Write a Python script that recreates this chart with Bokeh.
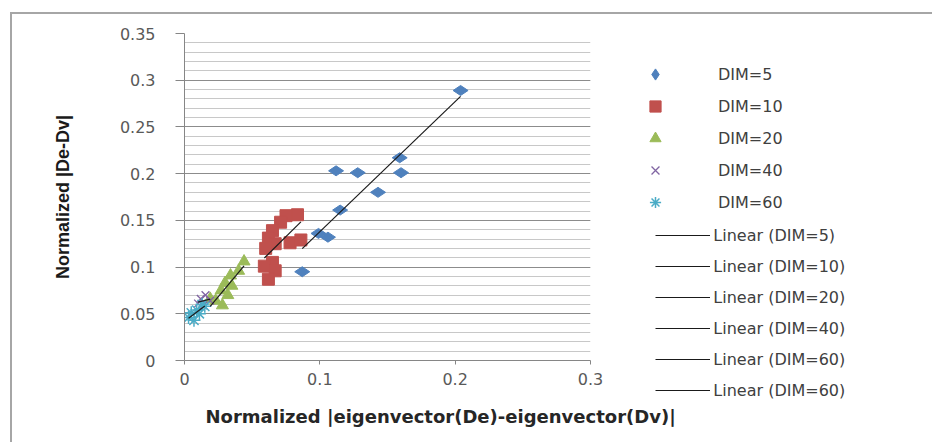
import numpy as np
from bokeh.plotting import figure
from bokeh.models import Legend, LegendItem, FixedTicker, Range1d, Title
from bokeh.embed import file_html
from bokeh.resources import INLINE

# ---------------- data ----------------
dim5_x = [0.204, 0.112, 0.128, 0.159, 0.160, 0.143, 0.115, 0.099, 0.106, 0.087]
dim5_y = [0.289, 0.203, 0.201, 0.217, 0.201, 0.180, 0.161, 0.136, 0.132, 0.095]

dim10_x = [0.0835, 0.075, 0.071, 0.065, 0.062, 0.067, 0.078, 0.086, 0.060, 0.065, 0.059, 0.067, 0.062]
dim10_y = [0.156, 0.155, 0.148, 0.139, 0.131, 0.125, 0.126, 0.129, 0.120, 0.105, 0.101, 0.096, 0.087]

dim20_x = [0.044, 0.040, 0.034, 0.030, 0.035, 0.027, 0.032, 0.023, 0.028, 0.019]
dim20_y = [0.106, 0.096, 0.091, 0.083, 0.080, 0.075, 0.070, 0.064, 0.059, 0.066]

dim40_x = [0.010, 0.012, 0.0155, 0.019, 0.014]
dim40_y = [0.061, 0.066, 0.070, 0.064, 0.059]

dim60_x = [0.003, 0.005, 0.007, 0.009, 0.011, 0.013, 0.015]
dim60_y = [0.046, 0.051, 0.043, 0.054, 0.050, 0.060, 0.058]

series_labels = ["DIM=5", "DIM=10", "DIM=20", "DIM=40", "DIM=60"]
trend_labels = ["Linear (DIM=5)", "Linear (DIM=10)", "Linear (DIM=20)",
                "Linear (DIM=40)", "Linear (DIM=60)", "Linear (DIM=60)"]

x_ticks = [0, 0.1, 0.2, 0.3]
x_tick_labels = ["0", "0.1", "0.2", "0.3"]
y_ticks = [0, 0.05, 0.1, 0.15, 0.2, 0.25, 0.3, 0.35]
y_tick_labels = ["0", "0.05", "0.1", "0.15", "0.2", "0.25", "0.3", "0.35"]
y_minor = [round(v, 2) for v in np.arange(0, 0.3501, 0.01)]

x_title = "Normalized |eigenvector(De)-eigenvector(Dv)|"
y_title = "Normalized |De-Dv|"

# ---------------- styles ----------------
series_styles = [
    dict(marker="diamond", size=15, angle=np.pi / 2, fill_color="#4f81bd", line_color="#4f81bd"),
    dict(marker="square", size=12, fill_color="#c0504d", line_color="#c0504d"),
    dict(marker="triangle", size=12, fill_color="#9bbb59", line_color="#9bbb59"),
    dict(marker="x", size=11, line_color="#8064a2", line_width=1.3),
    dict(marker="asterisk", size=13, line_color="#4bacc6", line_width=1.5),
]
trend_style = dict(line_color="#1a1a1a", line_width=1.2)

# ---------------- figure ----------------
p = figure(frame_width=406, frame_height=327, x_range=Range1d(0, 0.3), y_range=Range1d(0, 0.35),
           output_backend="svg", toolbar_location=None,
           min_border_left=172, min_border_right=0, min_border_top=19, min_border_bottom=78,
           styles={"border-left": "2px solid #a6a6a6", "border-top": "2px solid #a6a6a6",
                   "margin-left": "10px", "margin-top": "12px"})
p.outline_line_color = None
p.background_fill_color = "white"
p.border_fill_color = "white"

p.xaxis.ticker = FixedTicker(ticks=x_ticks)
p.yaxis.ticker = FixedTicker(ticks=y_ticks, minor_ticks=y_minor)
p.xaxis.major_label_overrides = dict(zip(x_ticks, x_tick_labels))
p.yaxis.major_label_overrides = dict(zip(y_ticks, y_tick_labels))
p.ygrid.ticker = FixedTicker(ticks=y_ticks, minor_ticks=y_minor)

p.xgrid.grid_line_color = None
p.ygrid.grid_line_color = "#8c8c8c"
p.ygrid.minor_grid_line_color = "#c8c8c8"

for ax in (p.xaxis, p.yaxis):
    ax.axis_line_color = "#868686"
    ax.major_tick_line_color = "#868686"
    ax.minor_tick_out = 0
    ax.minor_tick_in = 0
    ax.major_tick_in = 0
    ax.major_label_text_font = "DejaVu Sans"
    ax.major_label_text_font_size = "16px"
    ax.major_label_text_color = "#595959"

p.yaxis.major_tick_out = 9
p.yaxis.major_label_standoff = 20
p.xaxis.major_tick_out = 4
p.xaxis.major_label_standoff = 8

p.yaxis.axis_label = y_title
p.yaxis.axis_label_text_font = "Liberation Sans"
p.yaxis.axis_label_text_font_size = "18px"
p.yaxis.axis_label_text_font_style = "bold"
p.yaxis.axis_label_text_color = "#1a1a1a"
p.yaxis.axis_label_standoff = 44

# x-axis title (Excel places it right of centre)
p.add_layout(Title(text=x_title, align="left", offset=21, standoff=32,
                   text_font="DejaVu Sans", text_font_size="18px",
                   text_font_style="bold", text_color="#262626"), "below")

all_series = [(dim5_x, dim5_y), (dim10_x, dim10_y), (dim20_x, dim20_y),
              (dim40_x, dim40_y), (dim60_x, dim60_y)]

# scatter series
markers = [p.scatter(xs, ys, **st) for (xs, ys), st in zip(all_series, series_styles)]

# linear trend lines
trends = []
for xs, ys in all_series:
    xa = np.array(xs)
    ya = np.array(ys)
    k, b = np.polyfit(xa, ya, 1)
    lx = np.array([xa.min(), xa.max()])
    trends.append(p.line(lx, k * lx + b, **trend_style))
trends.append(trends[-1])

# ---------------- legends ----------------
leg1 = Legend(items=[LegendItem(label=l, renderers=[r]) for l, r in zip(series_labels, markers)],
              location=(51, 144), glyph_width=28, glyph_height=28, label_height=28,
              spacing=4, padding=0, margin=0, label_standoff=49,
              border_line_color=None, background_fill_alpha=0,
              label_text_font="DejaVu Sans", label_text_font_size="16px",
              label_text_color="#404040")
leg2 = Legend(items=[LegendItem(label=l, renderers=[r]) for l, r in zip(trend_labels, trends)],
              location=(-536, -40), glyph_width=55, glyph_height=20, label_height=20,
              spacing=11, padding=0, margin=0, label_standoff=3,
              border_line_color=None, background_fill_alpha=0,
              label_text_font="DejaVu Sans", label_text_font_size="16px",
              label_text_color="#404040")
p.add_layout(leg1, "right")
p.add_layout(leg2, "right")

open("out.html", "w").write(file_html(p, INLINE))
